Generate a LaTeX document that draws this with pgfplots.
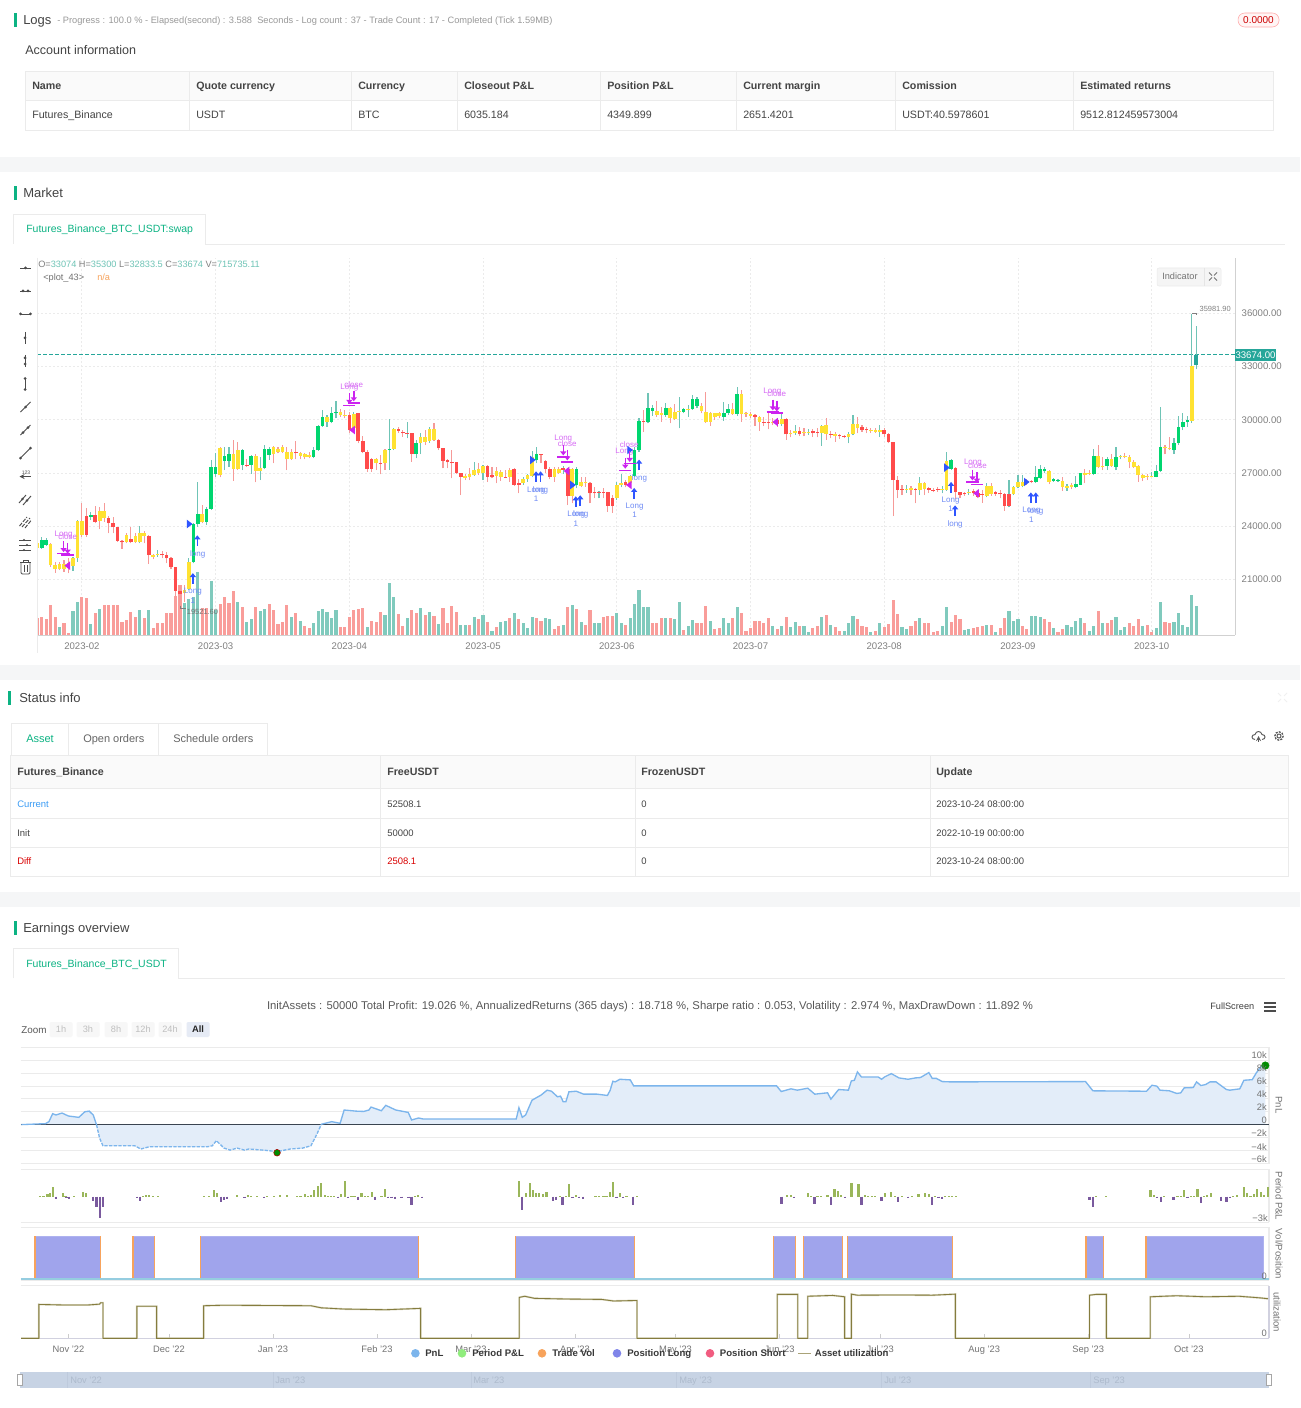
\documentclass[border=0pt]{standalone}
\usepackage{fontspec}
\setmainfont{Liberation Sans}
\usepackage{pgfplots}
\usepackage{pgfplotstable}
\pgfplotsset{compat=1.18}
\definecolor{brand}{HTML}{0CB383}
\definecolor{cgreen}{HTML}{00D66F}
\definecolor{cred}{HTML}{FF4B4B}
\definecolor{cyellow}{HTML}{FFE232}
\definecolor{wup}{HTML}{6FC4B6}
\definecolor{wdn}{HTML}{F69A98}
\definecolor{volup}{HTML}{80CABD}
\definecolor{voldn}{HTML}{F99D9A}
\definecolor{lastc}{HTML}{26A69A}
\definecolor{gridc}{HTML}{EBEBEB}
\definecolor{bluem}{HTML}{2F55FF}
\definecolor{magm}{HTML}{CC22F0}
\definecolor{bluet}{HTML}{6F8BF5}
\definecolor{magt}{HTML}{D76CF5}
\definecolor{txt}{HTML}{444444}
\definecolor{txtl}{HTML}{999999}
\definecolor{band}{HTML}{F5F6F7}
\definecolor{pnlc}{HTML}{7CB5EC}
\definecolor{pnlf}{HTML}{E3EDF9}
\definecolor{posc}{HTML}{9AB65A}
\definecolor{negc}{HTML}{7A5A9E}
\definecolor{vposc}{HTML}{A0A4EC}
\definecolor{orc}{HTML}{F7A35C}
\definecolor{basec}{HTML}{95CDE0}
\definecolor{olive}{HTML}{857C3E}
\definecolor{olivel}{HTML}{D8D5BE}
\definecolor{navc}{HTML}{C7D3E4}
\definecolor{navl}{HTML}{BECADC}
\definecolor{navt}{HTML}{AEBBCD}
\definecolor{zeroc}{HTML}{3A4450}
\definecolor{allc}{HTML}{E6EBF5}
\definecolor{legg}{HTML}{90ED7D}
\definecolor{legl}{HTML}{8085E9}
\definecolor{legs}{HTML}{F15C80}
\definecolor{cur}{HTML}{3B9CF5}
\newcommand\fs[1]{\fontsize{#1}{#1}\selectfont}
\newcommand\tx[5]{\node[anchor=base west,inner sep=0pt,text=#4,font=\fs{#3},yshift={-0.36*#3*1pt}] at (#1,#2) {#5};}
\newcommand\txb[5]{\node[anchor=base west,inner sep=0pt,text=#4,font=\fs{#3}\bfseries,yshift={-0.36*#3*1pt}] at (#1,#2) {#5};}
\newcommand\tc[5]{\node[anchor=base,inner sep=0pt,text=#4,font=\fs{#3},yshift={-0.36*#3*1pt}] at (#1,#2) {#5};}
\newcommand\bl[3]{\node[inner sep=0pt,text=bluet,font=\fs{6}] at (axis cs:#1,#2) {#3};}
\newcommand\mg[3]{\node[inner sep=0pt,text=magt,font=\fs{6}] at (axis cs:#1,#2) {#3};}
\pgfdeclareplotmark{uparr}{%
 \pgfsetlinewidth{1.1pt}%
 \pgfpathmoveto{\pgfpoint{0pt}{-4pt}}\pgfpathlineto{\pgfpoint{0pt}{2pt}}\pgfusepathqstroke
 \pgfpathmoveto{\pgfpoint{0pt}{4pt}}\pgfpathlineto{\pgfpoint{-2.4pt}{1pt}}\pgfpathlineto{\pgfpoint{2.4pt}{1pt}}\pgfpathclose\pgfusepathqfill}
\pgfdeclareplotmark{dnarr}{%
 \pgfsetlinewidth{1.1pt}%
 \pgfpathmoveto{\pgfpoint{0pt}{4pt}}\pgfpathlineto{\pgfpoint{0pt}{-2pt}}\pgfusepathqstroke
 \pgfpathmoveto{\pgfpoint{-4.6pt}{-5.2pt}}\pgfpathlineto{\pgfpoint{4.6pt}{-5.2pt}}\pgfusepathqstroke
 \pgfpathmoveto{\pgfpoint{0pt}{-4pt}}\pgfpathlineto{\pgfpoint{-2.4pt}{-1pt}}\pgfpathlineto{\pgfpoint{2.4pt}{-1pt}}\pgfpathclose\pgfusepathqfill}
\pgfdeclareplotmark{rtri}{%
 \pgfpathmoveto{\pgfpoint{-1.8pt}{3.2pt}}\pgfpathlineto{\pgfpoint{2.4pt}{0pt}}\pgfpathlineto{\pgfpoint{-1.8pt}{-3.2pt}}\pgfpathclose\pgfusepathqfill}
\pgfdeclareplotmark{ltri}{%
 \pgfpathmoveto{\pgfpoint{1.8pt}{3.2pt}}\pgfpathlineto{\pgfpoint{-2.4pt}{0pt}}\pgfpathlineto{\pgfpoint{1.8pt}{-3.2pt}}\pgfpathclose\pgfusepathqfill}
\pgfplotstableread{
o h l c t d v u
23030 23220 22650 22750 2 0 420 0
22780 23400 22710 23220 0 1 436 0
22930 23310 22880 23220 0 1 395 0
22970 23030 21710 21800 2 0 732 0
21800 21990 21370 21580 2 0 436 0
21860 21990 21520 21580 2 0 189 1
21840 22090 21430 21580 2 0 288 0
21900 22180 21340 21620 2 0 60 0
21770 22280 21490 22180 2 1 593 1
22180 24340 21990 24310 2 1 823 1
24310 25280 23400 23500 2 0 946 0
24570 25000 23400 23500 1 0 905 0
24530 24810 24340 24630 0 1 272 1
24630 25140 24150 24250 1 0 535 0
24850 25090 23820 24310 2 0 642 1
24850 25320 24250 24440 2 0 732 0
24440 24570 23590 24160 1 0 732 0
24160 24530 23590 23930 1 0 732 0
23930 23970 23120 23180 1 0 732 0
23180 23220 22710 23080 1 0 321 0
23500 23590 23030 23080 2 0 370 0
23250 23970 23030 23080 1 0 576 0
23460 23590 23030 23080 2 0 453 0
23080 24000 23030 23590 2 1 617 1
23590 23740 23030 23460 2 0 412 0
23440 23500 21860 22370 1 0 617 1
22370 22430 22130 22280 2 0 181 0
22350 22650 22280 22440 2 1 288 0
22430 22600 22180 22370 1 0 305 0
22370 22560 21900 22180 1 0 551 0
22180 22280 21560 21670 1 0 551 0
21670 21710 20020 20360 1 0 963 0
20360 20680 19520 20150 1 0 1235 0
20400 20680 19740 20210 2 0 782 1
20430 22180 20400 21960 2 1 881 1
21960 24160 21900 24120 0 1 946 1
24120 26500 23970 24660 0 1 1564 1
24680 25190 24160 24250 2 0 658 0
24250 25090 24060 24960 0 1 658 0
24960 27730 24910 27350 0 1 1333 1
26940 28100 26790 27350 0 1 617 1
28390 28480 26750 26880 2 0 765 0
27690 28480 27160 27970 0 1 930 0
27690 28480 27350 28060 0 1 782 0
28060 28860 26560 27240 2 0 1078 0
28290 28760 27160 27220 2 0 807 1
27450 28330 27160 28290 0 1 683 0
27450 27770 27350 27410 1 0 329 1
27450 28010 26940 27950 0 1 395 1
27970 28060 26470 27130 2 0 700 0
27130 27880 26600 27260 2 1 601 1
27260 28570 27200 28330 0 1 650 1
28010 28480 27730 28330 0 1 765 0
28480 28520 27540 28060 2 0 617 0
28330 28480 28100 28200 2 0 272 0
28440 28570 28140 28200 2 0 329 0
28160 28480 27160 27780 2 0 732 0
28160 28350 27730 27780 2 0 436 1
28160 28800 27770 28100 1 0 535 0
28100 28200 27770 27970 2 0 354 1
28060 28140 27770 27880 2 0 230 0
28010 28200 27820 27920 2 0 165 0
27920 28480 27820 28290 0 1 305 1
28290 29700 28250 29640 0 1 601 1
29640 30550 29610 30170 0 1 634 1
29870 30270 29610 30170 2 1 576 1
29870 30740 29800 30360 0 1 428 1
30360 31070 30080 30450 0 1 617 1
30440 30580 30170 30250 2 0 189 0
30270 30550 30080 30230 2 0 206 0
30270 30450 29230 29420 1 0 453 0
29510 30450 29270 30320 2 1 617 0
30360 30400 28670 28800 1 0 642 0
28800 29080 28100 28200 1 0 658 0
28200 28290 27070 27220 1 0 206 1
27780 27820 27070 27220 1 0 354 0
27780 27820 27160 27540 2 0 329 0
27580 28010 26920 27540 1 0 576 0
28290 28330 27160 27540 2 0 502 1
28290 30040 27160 28350 0 1 1276 1
28350 29510 28290 29460 2 1 946 1
29460 29610 29270 29380 1 0 510 0
29330 29420 29040 29230 1 0 222 0
29230 29890 28950 29190 1 1 412 1
29230 29270 27630 28060 1 0 617 0
28060 28860 27820 28670 0 1 535 0
28670 29270 28060 29010 2 1 675 1
29010 29420 28570 28760 2 0 494 0
28820 29610 28710 29460 2 1 576 1
29460 29830 28820 28860 2 0 477 0
28860 28890 28290 28390 1 0 272 1
28390 28400 27260 27690 1 0 658 0
27730 27770 27260 27600 1 0 288 0
27600 28290 26690 27540 1 0 724 0
27600 27630 26940 26980 1 0 576 0
26980 27010 25750 26790 1 0 247 1
26840 26940 26600 26690 2 0 247 1
26940 27260 26600 26750 2 0 247 0
26880 27630 26830 27160 2 1 453 1
27200 27540 26880 26980 2 0 387 0
26980 27450 26600 27390 2 1 494 1
27390 27450 26510 26790 1 0 329 0
26860 27350 26690 26750 1 0 107 1
27110 27350 26410 26830 2 0 206 0
27070 27160 26560 26790 2 0 313 1
26790 27160 26690 26750 1 0 354 1
27160 27260 26510 26750 2 0 412 0
27200 27260 26260 26320 1 0 535 1
26450 26640 25850 26320 1 0 395 0
26450 26750 26320 26640 2 1 288 1
26640 26940 26510 26860 2 1 165 1
26830 28240 26750 27920 2 1 436 1
27730 28440 27540 28060 0 1 412 0
28050 28060 27540 28010 1 0 354 0
27670 27730 27010 27200 1 0 412 1
27240 27310 26640 26790 1 0 395 1
27220 27350 26510 26790 2 0 140 0
27220 27310 26940 27010 2 0 222 0
27260 27390 26940 27160 1 1 247 1
27200 27260 25190 25700 1 0 700 0
27200 27260 25280 25700 2 0 732 1
26320 27350 26130 27200 0 1 642 0
26470 26790 26180 26260 2 0 329 1
26500 26750 26220 26450 2 0 247 0
26450 26500 25280 25850 1 0 617 0
25900 26180 25570 25850 1 0 288 1
25900 25990 25570 25870 1 1 305 1
25900 26130 25570 25870 1 0 453 0
25900 25940 24810 25130 1 0 469 0
25570 25750 24760 25130 1 0 477 0
25570 26510 25470 26320 2 1 535 1
26320 26940 26180 26410 2 1 305 1
26470 26600 26180 26320 1 0 247 0
26410 26880 26130 26830 2 1 412 1
26830 28480 26750 28290 0 1 757 1
28290 30080 28200 29950 0 1 1111 1
29950 30550 29330 29890 1 0 700 1
29890 31490 29800 30640 0 1 700 1
30510 30830 30230 30640 0 1 288 0
30490 31060 30170 30270 2 0 305 0
30400 30740 29890 30270 2 0 412 0
30270 30960 30170 30680 0 1 412 1
30680 30740 29800 30080 2 0 412 0
30420 30870 29980 30040 2 0 387 1
30470 31300 29510 30510 2 1 815 1
30450 30640 30360 30580 0 1 123 0
30570 30830 30170 30620 2 1 230 1
30580 31390 30550 31150 0 1 370 1
30790 31300 30640 31150 0 1 305 0
30790 30920 30360 30490 2 0 305 0
30450 31540 29830 29890 2 0 716 0
30360 30450 29660 29890 2 0 337 1
30360 30400 29980 30170 2 0 148 0
30360 30420 30080 30230 2 0 165 0
30170 31020 29930 30400 0 1 428 1
30360 30870 30270 30600 0 1 288 1
30600 30960 30270 30320 2 0 428 0
30320 31860 30210 31450 0 1 700 1
31450 31670 29890 30320 2 0 535 0
30360 30420 30170 30300 2 0 107 0
30320 30450 30080 30230 2 0 165 0
30270 30320 29640 30170 1 0 346 0
30170 30230 29380 29850 2 0 346 0
29890 30170 29640 29830 1 0 305 0
29870 30490 29460 29830 1 0 412 0
29870 30080 29700 29810 2 0 222 1
29980 30080 29610 29760 1 0 140 0
29740 30360 29640 30040 2 1 222 1
30040 30080 28860 29170 1 0 436 0
29270 29420 29010 29170 2 0 206 1
29230 29700 29140 29360 2 1 313 1
29340 29570 29080 29190 1 0 222 0
29330 29510 29080 29250 2 0 222 1
29270 29460 29140 29330 2 1 82 1
29340 29460 29040 29250 1 0 165 0
29330 29510 29010 29270 1 0 222 0
29230 29700 28540 29640 2 1 444 1
29680 30080 28860 29190 2 0 486 0
29190 29380 28950 29160 1 0 247 1
29170 29330 28760 29080 2 0 206 0
29120 29190 28930 29060 1 0 91 0
29080 29140 28950 29020 1 0 107 1
29040 29330 28670 29190 2 1 305 1
29170 30270 29120 29760 2 1 469 1
29760 30130 29230 29510 2 0 387 0
29570 29700 29330 29420 1 0 230 0
29460 29570 29230 29400 1 0 189 0
29440 29510 29270 29340 2 0 66 1
29440 29510 29250 29310 2 0 91 0
29310 29700 29040 29420 2 1 296 1
29420 29510 29040 29170 1 0 189 0
29190 29270 28670 28720 1 0 272 0
28720 28760 24570 26600 1 0 864 0
26600 26830 25570 26040 1 0 518 0
26090 26320 25750 26050 1 0 206 1
26050 26320 25890 26110 2 1 148 1
26150 26260 25750 26050 2 0 230 0
26090 26130 25280 26040 1 0 354 0
26040 26790 25750 26410 2 1 412 1
26410 26470 25750 26090 2 0 288 0
26150 26220 25890 26040 1 0 288 0
26050 26150 25920 25980 1 0 74 0
26090 26180 25940 26040 1 0 107 0
26040 26260 25850 26110 2 1 222 1
26040 28200 26000 27690 2 1 700 1
27220 27770 27160 27730 0 1 329 0
27280 27350 25510 25900 1 0 494 0
25900 25940 25570 25750 1 0 387 0
25870 25920 25700 25790 1 0 123 1
25850 26110 25750 25900 2 1 148 1
25960 26070 25700 25850 1 0 173 0
25890 25940 25570 25660 1 0 189 0
25790 26040 25320 25750 1 0 222 0
25720 26450 25620 26260 2 1 255 1
26260 26410 25700 25810 2 0 255 0
25900 25990 25700 25830 1 0 66 1
25870 26040 25570 25790 1 0 173 0
25810 25850 24870 25130 1 0 428 0
25810 26600 25060 25130 1 1 593 1
25790 26260 25750 26180 2 1 337 1
26180 26880 26130 26500 2 1 387 1
26260 26880 26180 26500 2 1 222 0
26560 26640 26320 26410 2 0 140 0
26560 26600 26410 26490 1 0 469 1
26510 27390 26450 26750 0 1 469 1
26690 27450 26660 27200 0 1 453 1
27090 27350 26980 27200 0 1 387 0
27090 27160 26370 26510 2 0 329 0
26540 26730 26490 26640 0 1 181 1
26560 26680 26510 26600 0 1 66 0
26540 26790 26000 26220 2 0 148 0
26170 26370 26000 26260 2 1 247 1
26320 26410 26070 26180 2 0 189 1
26200 26830 26130 26370 0 1 354 1
26340 27010 26320 26980 0 1 420 1
26980 27200 26410 26880 2 0 288 0
27000 27160 26880 26920 2 0 107 1
26940 28350 26880 27950 0 1 230 1
27950 28570 27260 27310 2 0 593 0
27390 27920 27160 27330 2 0 305 1
27390 27920 27160 27770 0 1 288 0
27770 28060 27350 27390 2 0 370 0
27350 28480 27160 27920 0 1 436 1
27900 28010 27770 27950 2 1 123 1
27950 28100 27820 27920 2 0 189 1
27920 28010 27260 27600 2 0 305 0
27600 27730 27260 27310 2 0 230 0
27410 27450 26510 26880 2 0 387 0
26880 26940 26540 26730 2 0 230 1
26830 26940 26600 26750 2 0 247 0
26750 27070 26750 26830 2 1 82 0
26790 27450 26750 27130 0 1 165 1
27110 30740 27070 28440 0 1 823 1
28460 28570 28050 28390 2 0 313 0
28390 29040 28290 28330 2 0 305 0
28290 28950 28060 28670 0 1 329 1
28670 30210 28570 29610 0 1 551 1
29610 30360 29420 29870 0 1 247 1
29870 30210 29610 29980 0 1 206 1
29950 35982 29830 33050 2 1 979 1
33074 35300 32833 33674 3 1 716 1
}\candles
\pgfplotstableread{
d k
-14 0
-6.8 0.15
-5.8 0.46
-4.7 1.7
-3.7 1.5
-1.9 1.8
0 1.34
3.1 1.13
4.9 2.0
6.2 2.1
7.4 1.5
8.4 -0.05
9.3 -2.1
10.3 -3.3
19.8 -3.3
21.6 -3.8
24.1 -3.45
41.4 -3.45
42.9 -3.3
44.1 -2.5
46.4 -3.66
48.2 -3.97
50.3 -3.66
52.5 -3.97
53.8 -3.8
58.7 -4.0
62.2 -4.2
66.1 -3.8
69.8 -3.66
72.3 -3.3
74.2 -1.34
75.4 0.05
78.5 0.46
81 0.2
82.2 2.27
85.7 2.1
88 2.05
89.6 2.27
90.2 2.73
93.3 2.16
94.6 3.0
97.6 2.27
101.3 1.9
102.3 0.72
104.4 1.03
105.7 0.88
133.5 0.88
134.3 2.63
135.3 1.13
136.3 1.5
138.2 3.8
140.9 4.6
142.7 5.36
144 5.2
145.8 4.33
146.7 4.43
147.5 3.56
148.3 3.56
149.2 5.1
151.4 5.2
153.6 4.74
157.6 4.74
160.7 4.54
161.5 5.36
162.3 6.75
163 6.65
164.4 7.06
167.5 6.96
168.5 6.03
211.1 6.03
212.5 5.15
215.4 5.57
217.3 5.36
220.4 5.67
222.5 4.74
226.3 4.95
227.3 3.97
229.6 5.46
232.5 5.36
233.4 6.8
234.3 6.9
235.2 8.2
236.4 7.42
241.4 7.42
242.4 7.06
243.3 7.42
245.3 7.94
247.6 7.27
250.3 7.06
252.5 7.27
254 7.33
256.5 8.1
257.5 7.2
258.7 7.2
260.5 6.7
263 6.65
303.2 6.7
305.4 5.26
321.4 5.2
323 6.13
324.5 5.98
325.4 5.36
328.2 5.26
330.4 4.85
331.6 4.95
332.6 5.72
335.3 5.77
336.3 6.65
337.6 6.08
339 6.24
340.3 6.65
342.1 6.65
345.2 5.46
346.2 5.36
349.2 5.57
350.4 6.9
352.9 7.0
354.1 8.04
355.4 8.97
356.8 9.2
}\pnl
\pgfplotstableread{
d k
-8.5 .08
-7.4 .08
-6.2 .27
-5.4 .47
-4.6 1.09
-1.7 .43
-.9 .08
1.6 .08
4.3 .51
5.3 .47
22.2 .08
23.1 .16
24.1 .16
25.3 .08
26.6 .08
40.4 .08
42 .04
43.5 .74
44.3 .39
50.3 .16
53.5 .16
54.4 .08
56.2 .08
59.3 .04
61.2 .08
63 .16
65.1 .16
68.1 .08
69.2 .08
70.5 .27
71.4 .08
72.3 .16
73.3 .74
74.3 1.25
75.3 1.56
76.4 .16
77.3 .08
78.2 .08
79.2 .08
81.3 .27
82.4 1.83
84.4 .08
85.3 .08
87.4 .39
88.4 .08
89.4 .08
90.4 .51
93.3 .08
94.3 .89
103.3 .08
104.3 .19
134.4 1.87
136.3 .39
137.5 1.56
138.4 .78
139.3 .39
140.3 .39
141.5 .31
142.5 .54
146.5 .12
148.3 .08
149.3 1.44
151.3 .19
157.1 .08
158.2 .08
159.5 .08
160.4 .08
161.4 .54
162.4 1.75
164.4 .47
166.4 .12
169.5 .08
214.2 .16
215.4 .16
220.4 .43
221.4 .04
223.3 .08
224.3 .08
226.3 .16
228.4 .89
229.4 .62
230.4 .19
233.4 1.6
235.5 1.44
237.4 .16
238.4 .04
239.5 .04
240.5 .04
243.4 .47
245.3 .54
246.3 .08
248.4 .04
251.4 .04
253.4 .31
255.4 .39
256.5 .31
258.4 .08
261.4 .04
262.4 .04
263.4 .04
264.6 .04
306.4 .04
309.4 .04
322.6 .74
323.6 .19
326.7 .04
330.6 .04
331.7 .12
332.6 .74
334.6 .12
335.6 .12
336.6 .89
338.5 .08
339.5 .23
340.5 .39
347.2 .08
348.4 .16
350.4 1.13
351.4 .39
352.4 .04
353.4 .35
354.4 .86
355.4 .51
356.3 .19
357.6 1.09
}\perpos
\pgfplotstableread{
d k
-3.7 -.27
-.6 -.16
.2 -.23
7.4 -.51
8.4 -1.17
9.4 -2.45
10.4 -1.17
20.4 -.12
21.3 -.47
45.5 -.58
46.4 -.39
47.3 -.23
52.5 -.12
58.2 -.12
80.3 -.19
83.4 -.19
86.4 -.39
91.3 -.39
95.3 -.12
96.3 -.19
97.3 -.27
99.3 -.12
101.4 -.19
102.3 -.97
105.4 -.08
135.3 -1.56
144.5 -.51
145.4 -.39
147.3 -.93
150.3 -.12
152.3 -.08
153.3 -.27
163.4 -.12
165.4 -.12
168.4 -.97
212.6 -.86
216.4 -.04
222.4 -.89
227.4 -1.01
231.5 -.12
236.4 -.93
242.4 -.47
247.4 -.62
250.3 -.19
257.5 -.97
259.4 -.19
260.4 -.27
304.4 -.39
305.4 -1.17
324.6 -.12
325.6 -.66
329.4 -.39
333.6 -.08
337.6 -.7
343.5 -.47
345.2 -.62
346.2 -.08
}\perneg
\pgfplotstableread{
d u
-14.1 0
-8.8 0
-8.8 .645
-2 .635
6 .635
9.3 .65
9.6 .677
10.3 .677
10.3 0
20.4 0
20.4 .61
26.3 .61
26.3 0
40.3 0
40.3 .62
46.4 .63
72.3 .62
75.4 .58
82.2 .557
94.6 .544
105 .57
105 0
134.4 0
134.4 .778
136 .8
139 .76
149 .747
159 .74
162.5 .71
169.5 .72
169.5 0
211.3 0
211.3 .835
217.4 .835
217.4 0
220.4 0
220.4 .8
227.8 .816
231.4 .79
231.4 0
233.4 0
233.4 .84
235.2 .82
247.6 .825
257.5 .82
264.4 .84
264.4 0
304.4 0
304.4 .82
306.3 .835
309.4 .835
309.4 0
322.5 0
322.5 .79
330.4 .81
339 .79
349 .8
355.1 .77
357.6 .753
}\util
\begin{document}
\begin{tikzpicture}[x=0.75pt,y=-0.75pt]
\useasboundingbox (0,0) rectangle (1300,1408);
\fill[white] (0,0) rectangle (1300,1408);
\fill[band] (0,157) rectangle (1300,172);
\fill[band] (0,665) rectangle (1300,680);
\fill[band] (0,892) rectangle (1300,907);
% Logs header
\fill[brand] (14,13) rectangle (16.5,27);
\tx{23}{20}{9.75}{txt}{Logs}
\tx{57}{20}{6.95}{txtl}{- Progress : 100.0 \% - Elapsed(second) : 3.588\ \ Seconds - Log count : 37 - Trade Count : 17 - Completed (Tick 1.59MB)}
\fill[rounded corners=5pt,fill=red!4,draw=red!35] (1238,13) rectangle (1279,27);
\tc{1258.5}{20}{7.5}{red!80!black}{0.0000}
\tx{25}{50}{9.4}{txt}{Account information}
% Account table
\fill[black!2] (25,71) rectangle (1273,100);
\draw[black!8] (25,71) rectangle (1273,130);
\draw[black!8] (25,100) -- (1273,100);
\foreach \c in {189,351,457,600,736,895,1073} {\draw[black!8] (\c,71) -- (\c,130);}
\foreach \c/\t in {32/Name,196/Quote currency,358/Currency,464/Closeout P\&L,607/Position P\&L,743/Current margin,902/Comission,1080/Estimated returns}
 {\txb{\c}{86}{8}{txt}{\t}}
\foreach \c/\t in {32/Futures\_Binance,196/USDT,358/BTC,464/6035.184,607/4349.899,743/2651.4201,902/USDT:40.5978601,1080/9512.812459573004}
 {\tx{\c}{115}{8}{txt}{\t}}
% Market header
\fill[brand] (14,186) rectangle (16.5,200);
\tx{23}{193}{9.75}{txt}{Market}
\draw[black!8] (205,244) -- (1285,244);
\draw[black!8] (13,244) -- (13,214) -- (205,214) -- (205,244);
\tx{26}{229}{7.87}{brand}{Futures\_Binance\_BTC\_USDT:swap}
% Main chart: grid and axes
\begin{axis}[at={(27.75pt,-193.5pt)},anchor=north west,scale only axis,width=898.5pt,height=282.75pt,
 xmin=-0.07,xmax=268.7,ymin=17860,ymax=39120,scaled ticks=false,
 axis x line*=bottom,axis y line*=right,
 xtick={10,40,70,100,130,160,190,220,250},
 xticklabels={2023-02,2023-03,2023-04,2023-05,2023-06,2023-07,2023-08,2023-09,2023-10},
 ytick={21000,24000,27000,30000,33000,36000},
 yticklabels={21000.00,24000.00,27000.00,30000.00,33000.00,36000.00},
 xmajorgrids,ymajorgrids,
 grid style={color=gridc,dash pattern=on 1.3pt off 1.7pt,line width=.6pt},
 axis line style={color=black!18,line width=.7pt},
 xtick style={color=black!25},ytick style={draw=none},
 major tick length=4pt,
 xticklabel style={font=\fs{7.2},text=black!50,yshift=-2pt},
 yticklabel style={font=\fs{7.2},text=black!50,xshift=1.5pt},
 ]
\addplot[draw=none,no markers,forget plot] coordinates {(0,20000)(1,20000)};
\end{axis}
% Volume
\begin{axis}[at={(27.75pt,-193.5pt)},anchor=north west,scale only axis,width=898.5pt,height=282.75pt,
 xmin=-0.07,xmax=268.7,ymin=0,ymax=9304,hide axis]
\addplot[ycomb,mark=none,line width=2.35pt,color=volup,forget plot] table[x expr={\thisrow{u}==1?\coordindex:nan},y=v] {\candles};
\addplot[ycomb,mark=none,line width=2.35pt,color=voldn,forget plot] table[x expr={\thisrow{u}==0?\coordindex:nan},y=v] {\candles};
\end{axis}
% Candles
\begin{axis}[at={(27.75pt,-193.5pt)},anchor=north west,scale only axis,width=898.5pt,height=282.75pt,
 xmin=-0.07,xmax=268.7,ymin=17860,ymax=39120,hide axis]
\addplot[color=lastc,line width=.7pt,dash pattern=on 3pt off 1.5pt,forget plot] coordinates {(-0.07,33674)(268.7,33674)};
\addplot[forget plot,draw=none,no markers,error bars/.cd,y dir=plus,y explicit,error mark=none,error bar style={line width=.85pt,draw=wup,solid}]
 table[x expr={\thisrow{d}==1?\coordindex:nan},y=l,y error expr={\thisrow{h}-\thisrow{l}}] {\candles};
\addplot[forget plot,draw=none,no markers,error bars/.cd,y dir=plus,y explicit,error mark=none,error bar style={line width=.85pt,draw=wdn,solid}]
 table[x expr={\thisrow{d}==0?\coordindex:nan},y=l,y error expr={\thisrow{h}-\thisrow{l}}] {\candles};
\addplot[forget plot,draw=none,no markers,error bars/.cd,y dir=plus,y explicit,error mark=none,error bar style={line width=2.7pt,draw=cgreen,solid}]
 table[x expr={\thisrow{t}==0?\coordindex:nan},y expr={min(\thisrow{o},\thisrow{c})},y error expr={abs(\thisrow{c}-\thisrow{o})}] {\candles};
\addplot[forget plot,draw=none,no markers,error bars/.cd,y dir=plus,y explicit,error mark=none,error bar style={line width=2.7pt,draw=cred,solid}]
 table[x expr={\thisrow{t}==1?\coordindex:nan},y expr={min(\thisrow{o},\thisrow{c})},y error expr={abs(\thisrow{c}-\thisrow{o})}] {\candles};
\addplot[forget plot,draw=none,no markers,error bars/.cd,y dir=plus,y explicit,error mark=none,error bar style={line width=2.7pt,draw=cyellow,solid}]
 table[x expr={\thisrow{t}==2?\coordindex:nan},y expr={min(\thisrow{o},\thisrow{c})},y error expr={abs(\thisrow{c}-\thisrow{o})}] {\candles};
\addplot[forget plot,draw=none,no markers,error bars/.cd,y dir=plus,y explicit,error mark=none,error bar style={line width=2.7pt,draw=lastc,solid}]
 table[x expr={\thisrow{t}==3?\coordindex:nan},y expr={min(\thisrow{o},\thisrow{c})},y error expr={abs(\thisrow{c}-\thisrow{o})}] {\candles};
% trade markers
\addplot[only marks,mark=rtri,color=bluem,mark options={fill=bluem},forget plot] coordinates {(34.1,24120)(111.1,27730)(120.1,26320)(132.9,28290)(204,27300)(221.9,26490)};
\addplot[only marks,mark=ltri,color=magm,mark options={fill=magm},forget plot] coordinates {(6.8,21770)(70.7,29420)(118.8,27110)(132.8,26320)(165.6,29870)(210.7,25850)};
\addplot[only marks,mark=uparr,color=bluem,mark options={fill=bluem},forget plot] coordinates {(35.9,23180)(34.9,21050)(111.9,26790)(112.9,26790)(120.8,25380)(121.8,25440)(133.9,25850)(135,27450)(205,26190)(205.9,24870)(222.9,25600)(224,25600)};
\addplot[only marks,mark=dnarr,color=magm,mark options={fill=magm},forget plot] coordinates {(5.9,22840)(6.8,22750)(70,31200)(71,31340)(118,28290)(118.9,28010)(131.9,27540)(132.9,27920)(165,30830)(165.9,30770)(209.8,26880)(210.8,26750)};
\bl{36}{22420}{long}\bl{34.9}{20300}{Long}\bl{34.9}{19800}{1}
\bl{111.9}{25990}{Long}\bl{112.9}{25990}{long}\bl{111.9}{25530}{1}
\bl{120.9}{24630}{Long}\bl{121.9}{24680}{long}\bl{120.8}{24120}{1}
\bl{134}{25100}{Long}\bl{134}{24630}{1}\bl{135.1}{26690}{long}
\bl{204.9}{25450}{Long}\bl{204.9}{25000}{1}\bl{205.9}{24120}{long}
\bl{223}{24870}{Long}\bl{224}{24850}{long}\bl{223}{24380}{1}
\mg{5.9}{23550}{Long}\mg{6.8}{23400}{close}
\mg{70}{31810}{Long}\mg{71}{32000}{close}
\mg{118}{28950}{Long}\mg{118.9}{28630}{close}
\mg{131.7}{28220}{Long}\mg{132.8}{28600}{close}
\mg{164.9}{31560}{Long}\mg{165.9}{31490}{close}
\mg{209.9}{27580}{Long}\mg{210.9}{27410}{close}
\node[inner sep=0pt,text=black!50,font=\fs{5.6},anchor=west] at (axis cs:260.7,36220) {35981.90};
\node[inner sep=0pt,text=black!55,font=\fs{5.6},anchor=west] at (axis cs:33.5,19170) {19521.60};
\draw[black!50,line width=.5pt] (axis cs:259,35982) -- (axis cs:260,35982) -- (axis cs:260,35900);
\draw[black!50,line width=.5pt] (axis cs:32,19520) -- (axis cs:32,19350) -- (axis cs:33.3,19350);
\end{axis}
\draw[black!8,line width=.7pt] (37,258) -- (37,653);
\fill[lastc] (1235,349) rectangle (1276,361);
\tc{1255.5}{355}{7.2}{white}{33674.00}
% OHLC text
\node[anchor=west,inner sep=0pt,font=\fs{6.9}] at (38,264) {\textcolor{black!50}{O=}\textcolor{wup}{33074} \textcolor{black!50}{H=}\textcolor{wup}{35300} \textcolor{black!50}{L=}\textcolor{wup}{32833.5} \textcolor{black!50}{C=}\textcolor{wup}{33674} \textcolor{black!50}{V=}\textcolor{wup}{715735.11}};
\tx{43}{277}{6.9}{black!55}{<plot\_43>}
\tx{97}{277}{6.9}{orc}{n/a}
% Indicator button
\filldraw[fill=black!4,draw=black!8,rounded corners=1.5pt] (1157,268) rectangle (1221,286);
\draw[black!10] (1204,268) -- (1204,286);
\tx{1162}{276.5}{6.9}{black!55}{Indicator}
\begin{scope}[black!55,line width=.6pt]
\draw (1209,272.5)--(1212,275.5);\draw (1217,272.5)--(1214,275.5);\draw (1209,280.5)--(1212,277.5);\draw (1217,280.5)--(1214,277.5);
\end{scope}
% Toolbar
\begin{scope}[black!70,line width=.7pt]
\foreach \y in {268,291,314} {\draw (20,\y)--(31,\y);}
\fill (25.5,268) circle (1.5);
\fill (23,291) circle (1.5);\fill (28,291) circle (1.5);
\fill (20.5,314) circle (1.5);\fill (30.5,314) circle (1.5);
\foreach \y in {338,361,384} {\draw (25,\y-6)--(25,\y+6);}
\fill (25,338) circle (1.5);
\fill (25,358) circle (1.5);\fill (25,364) circle (1.5);
\fill (25,378.5) circle (1.5);\fill (25,389.5) circle (1.5);
\foreach \y in {407,430,453} {\draw (20.5,\y+5)--(30.5,\y-5);}
\fill (25.5,407) circle (1.5);
\fill (23,432.5) circle (1.5);\fill (28,427.5) circle (1.5);
\fill (20.5,458) circle (1.5);\fill (30.5,448) circle (1.5);
\draw[->,>=stealth] (30.5,476.5)--(19.5,476.5);
\node[inner sep=0pt,font=\fs{3.8},text=black!70] at (26,473) {123};
\draw (19,503)--(26,495);\draw (23,505)--(31,496);
\fill (22.5,499) circle (1.3);\fill (27,500.5) circle (1.3);
\draw[dash pattern=on 3pt off 1pt] (19.5,526)--(27,517);\draw[dash pattern=on 3pt off 1pt] (22,527)--(30,518);\draw[dash pattern=on 3pt off 1pt] (25,528)--(31.5,520);
\draw (19,540)--(31,540);\draw (19,545)--(31,545);\draw (19,550)--(31,550);
\fill (24,540) circle (1.1);\fill (27,545) circle (1.1);\fill (24,550) circle (1.1);
\draw (20,562.5)--(31,562.5);\draw (23,562.5)--(23,560.5)--(28,560.5)--(28,562.5);
\draw[rounded corners=1pt] (21,563)--(21,574)--(30,574)--(30,563);
\draw (24,565)--(24,572);\draw (27,565)--(27,572);
\end{scope}
% Status info
\fill[brand] (8,691) rectangle (10.5,705);
\tx{19}{698}{9.75}{txt}{Status info}
\draw[black!6,line width=.7pt] (1278,693)--(1281,696) (1287,693)--(1284,696) (1278,702)--(1281,699) (1287,702)--(1284,699);
\draw[black!8] (68,755) -- (1288,755);
\draw[black!8] (11,755) -- (11,723) -- (68,723) -- (68,755);
\draw[black!8] (68,723) -- (267,723) -- (267,755);
\draw[black!8] (158,723) -- (158,755);
\tx{26}{739}{8.25}{brand}{Asset}
\tx{83}{739}{8.25}{black!60}{Open orders}
\tx{173}{739}{8.25}{black!60}{Schedule orders}
\begin{scope}[black!65,line width=.7pt]
\draw (1255,739.5) .. controls (1251,739.5) and (1251,734.5) .. (1255,734.5) .. controls (1256,730.5) and (1261,730.5) .. (1262,734.5) .. controls (1266,734.5) and (1266,739.5) .. (1262,739.5);
\draw[->,>=stealth] (1258.5,741.5)--(1258.5,736);
\draw (1279,736) circle (2);\draw[dash pattern=on 1.4pt off 1pt,line width=1pt] (1279,736) circle (4.2);
\end{scope}
\fill[black!2] (10,755) rectangle (1288,788);
\draw[black!8] (10,755) rectangle (1288,876);
\foreach \y in {788,818,847} {\draw[black!8] (10,\y)--(1288,\y);}
\foreach \c in {380,635,930} {\draw[black!8] (\c,755)--(\c,876);}
\foreach \c/\t in {17/Futures\_Binance,387/FreeUSDT,641/FrozenUSDT,936/Update}
 {\txb{\c}{771.5}{8}{txt}{\t}}
\tx{17}{804}{7.1}{cur}{Current}
\tx{387}{804}{7.1}{txt}{52508.1}
\tx{641}{804}{7.1}{txt}{0}
\tx{936}{804}{7.1}{txt}{2023-10-24 08:00:00}
\tx{17}{833}{7.1}{txt}{Init}
\tx{387}{833}{7.1}{txt}{50000}
\tx{641}{833}{7.1}{txt}{0}
\tx{936}{833}{7.1}{txt}{2022-10-19 00:00:00}
\tx{17}{861.5}{7.1}{red!85!black}{Diff}
\tx{387}{861.5}{7.1}{red!85!black}{2508.1}
\tx{641}{861.5}{7.1}{txt}{0}
\tx{936}{861.5}{7.1}{txt}{2023-10-24 08:00:00}
% Earnings header
\fill[brand] (14,921) rectangle (16.5,935);
\tx{23}{928}{9.75}{txt}{Earnings overview}
\draw[black!8] (178,978) -- (1285,978);
\draw[black!8] (13,978) -- (13,948) -- (178,948) -- (178,978);
\tx{26}{963.5}{7.87}{brand}{Futures\_Binance\_BTC\_USDT}
\tc{650}{1005}{8.48}{black!65}{InitAssets : 50000 Total Profit: 19.026 \%, AnnualizedReturns (365 days) : 18.718 \%, Sharpe ratio : 0.053, Volatility : 2.974 \%, MaxDrawDown : 11.892 \%}
\tx{1210}{1006.5}{6.9}{black!75}{FullScreen}
\fill[black!70] (1264,1002) rectangle (1276,1003.5);
\fill[black!70] (1264,1006) rectangle (1276,1007.5);
\fill[black!70] (1264,1010) rectangle (1276,1011.5);
\tx{21}{1029.5}{7.4}{black!65}{Zoom}
\foreach \c/\t in {61/1h,88/3h,116/8h,143/12h,170/24h} {
 \fill[black!3,rounded corners=1pt] (\c-11.5,1022) rectangle (\c+11.5,1037);
 \tc{\c}{1029.5}{6.9}{black!25}{\t}
}
\fill[allc,rounded corners=1pt] (186.5,1022) rectangle (209.5,1037);
\node[inner sep=0pt,font=\fs{7}\bfseries,text=black!85] at (198,1029.5) {All};
% Panel 1 PnL
\begin{axis}[at={(15.75pt,-784.875pt)},anchor=north west,scale only axis,width=936pt,height=88.1pt,
 xmin=-14.13,xmax=357.9,ymin=-6.13,ymax=12.16,hide x axis,axis y line*=right,
 ytick={-6,-4,-2,0,2,4,6,8,10,12},yticklabels={},ytick style={draw=none},
 ymajorgrids,grid style={color=gridc,line width=.8pt},axis line style={color=gridc,line width=.8pt}]
\addplot[fill=pnlf,draw=none,forget plot] table[x=d,y=k] {\pnl} \closedcycle;
\addplot[color=zeroc,line width=1pt,forget plot] coordinates {(-14.13,0)(357.9,0)};
\addplot[color=pnlc,line width=1pt,forget plot,restrict x to domain=-15:8.45] table[x=d,y=k] {\pnl};
\addplot[color=pnlc,line width=1pt,dash pattern=on 2.5pt off 1pt,forget plot,restrict x to domain=8.3:75.5] table[x=d,y=k] {\pnl};
\addplot[color=pnlc,line width=1pt,forget plot,restrict x to domain=75.3:358] table[x=d,y=k] {\pnl};
\addplot[only marks,mark=*,mark size=2.5pt,color=red!70!black,mark options={fill=green!55!black},forget plot] coordinates {(62.2,-4.38)};
\addplot[only marks,mark=*,mark size=2.8pt,color=green!55!black,mark options={fill=green!55!black},forget plot] coordinates {(356.8,9.2)};
\end{axis}
\foreach \y/\t in {1055/10k,1068.3/8k,1081/6k,1094.3/4k,1107.3/2k,1120.7/0,1133.3/−2k,1146.7/−4k,1159.3/−6k}
 {\node[anchor=east,inner sep=0pt,text=black!55,font=\fs{7}] at (1267,\y) {\t};}
% Panel 2 Period P&L
\begin{axis}[at={(15.75pt,-876.98pt)},anchor=north west,scale only axis,width=936pt,height=39.75pt,
 xmin=-14.13,xmax=357.9,ymin=-3,ymax=3.19,hide x axis,axis y line*=right,
 ytick={-3,3.19},yticklabels={},ytick style={draw=none},
 ymajorgrids,grid style={color=gridc,line width=.8pt},axis line style={color=gridc,line width=.8pt}]
\addplot[ycomb,mark=none,line width=1.7pt,color=posc,forget plot] table[x=d,y=k] {\perpos};
\addplot[ycomb,mark=none,line width=1.7pt,color=negc,forget plot] table[x=d,y=k] {\perneg};
\end{axis}
\node[anchor=east,inner sep=0pt,text=black!55,font=\fs{7}] at (1268,1218) {−3k};
% Panel 3 Vol/Position
\begin{axis}[at={(15.75pt,-920.48pt)},anchor=north west,scale only axis,width=936pt,height=39.5pt,
 xmin=-14.13,xmax=357.9,ymin=-0.016,ymax=1.209,hide x axis,axis y line*=right,
 ytick={-0.016,1.209},yticklabels={},ytick style={draw=none},
 ymajorgrids,grid style={color=gridc,line width=.8pt},axis line style={color=gridc,line width=.8pt}]
\addplot[fill=vposc,draw=vposc!85!white,line width=.8pt,forget plot] coordinates {(-9.9,0)(-9.9,1)(9.6,1)(9.6,0)};
\addplot[fill=vposc,draw=vposc!85!white,line width=.8pt,forget plot] coordinates {(19.2,0)(19.2,1)(25.6,1)(25.6,0)};
\addplot[fill=vposc,draw=vposc!85!white,line width=.8pt,forget plot] coordinates {(39.3,0)(39.3,1)(104.4,1)(104.4,0)};
\addplot[fill=vposc,draw=vposc!85!white,line width=.8pt,forget plot] coordinates {(133.2,0)(133.2,1)(168.7,1)(168.7,0)};
\addplot[fill=vposc,draw=vposc!85!white,line width=.8pt,forget plot] coordinates {(210.2,0)(210.2,1)(216.7,1)(216.7,0)};
\addplot[fill=vposc,draw=vposc!85!white,line width=.8pt,forget plot] coordinates {(219.1,0)(219.1,1)(230.8,1)(230.8,0)};
\addplot[fill=vposc,draw=vposc!85!white,line width=.8pt,forget plot] coordinates {(232.2,0)(232.2,1)(263.6,1)(263.6,0)};
\addplot[fill=vposc,draw=vposc!85!white,line width=.8pt,forget plot] coordinates {(303.3,0)(303.3,1)(308.6,1)(308.6,0)};
\addplot[fill=vposc,draw=vposc!85!white,line width=.8pt,forget plot] coordinates {(321.2,0)(321.2,1)(356.3,1)(356.3,0)};
\addplot[ycomb,mark=none,line width=1.1pt,color=orc,forget plot] coordinates {(-9.9,1)(9.6,1)(19.2,1)(25.6,1)(39.3,1)(104.4,1)(133.2,1)(168.7,1)(210.2,1)(216.7,1)(219.1,1)(230.8,1)(232.2,1)(263.6,1)(303.3,1)(308.6,1)(321.2,1)};
\addplot[color=basec,line width=1.5pt,forget plot] coordinates {(-14.13,0)(357.9,0)};
\end{axis}
\node[anchor=east,inner sep=0pt,text=black!55,font=\fs{7}] at (1267,1276) {0};
% Panel 4 Asset utilization
\begin{axis}[at={(15.75pt,-964.28pt)},anchor=north west,scale only axis,width=936pt,height=39.5pt,
 xmin=-14.13,xmax=357.9,ymin=0,ymax=1,axis x line*=bottom,axis y line*=right,
 ytick={1},yticklabels={},ytick style={draw=none},
 xtick={0,30,61,92,120,151,181,212,242,273,304,334},
 xticklabels={Nov '22,Dec '22,Jan '23,Feb '23,Mar '23,Apr '23,May '23,Jun '23,Jul '23,Aug '23,Sep '23,Oct '23},
 xticklabel style={font=\fs{7},text=black!55,yshift=-2pt},
 xtick style={color=black!20},major tick length=3pt,
 ymajorgrids,grid style={color=gridc,line width=.8pt},axis line style={color=blue!30!black!18,line width=.8pt}]
\addplot[color=olivel,line width=1.4pt,forget plot] table[x=d,y=u] {\util};
\addplot[color=olive,line width=.65pt,forget plot] table[x=d,y=u] {\util};
\end{axis}
\node[anchor=east,inner sep=0pt,text=black!55,font=\fs{7}] at (1267,1333.5) {0};
% Rotated axis titles
\foreach \x/\y/\t in {1279/1105/PnL,1279/1196/{Period P\&L},1279/1254/{Vol/Position},1277/1312/utilization}
 {\node[rotate=-90,inner sep=0pt,text=black!55,font=\fs{7.2}] at (\x,\y) {\t};}
% Legend
\foreach \c/\k in {415.4/pnlc,462/legg,542/orc,617/legl,710/legs} {\fill[\k] (\c,1353.3) circle (4.3);}
\foreach \c/\t in {425/PnL,472/Period P\&L,552/Trade Vol,627/Position Long,719.7/Position Short,814.6/Asset utilization}
 {\txb{\c}{1353.3}{7.2}{black!78}{\t}}
\draw[olive!70!white,line width=.9pt] (798.4,1353.3)--(811,1353.3);
% Navigator
\fill[navc] (20,1372.3) rectangle (1269,1387.7);
\foreach \c in {67,273.6,471,676.5,881,1090} {\draw[navl,line width=.4pt] (\c,1372.3)--(\c,1387.7);}
\foreach \c/\t in {70/Nov '22,275/Jan '23,473/Mar '23,679/May '23,884/Jul '23,1093/Sep '23}
 {\tx{\c}{1380.5}{7}{navt}{\t}}
\filldraw[fill=white,draw=black!35,line width=.5pt] (17.5,1374.5) rectangle (22,1385.5);
\filldraw[fill=white,draw=black!35,line width=.5pt] (1266.5,1374.5) rectangle (1271,1385.5);
\end{tikzpicture}
\end{document}
